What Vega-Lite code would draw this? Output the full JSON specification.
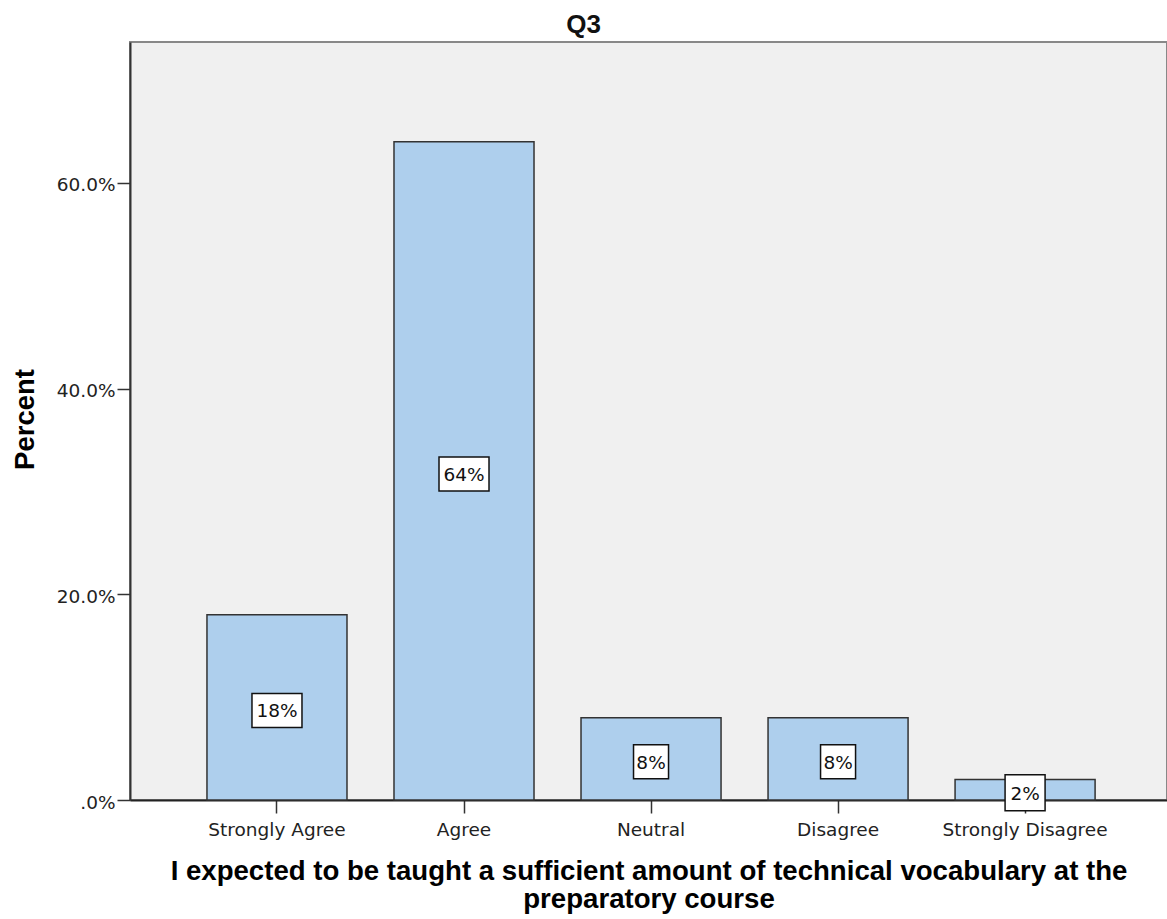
{
  "$schema": "https://vega.github.io/schema/vega-lite/v6.json",
  "autosize": {"type": "none"},
  "padding": {"left": 130, "top": 42, "right": 0, "bottom": 119},
  "width": 1037,
  "height": 758,
  "background": "white",
  "title": {
    "text": "Q3",
    "font": "Liberation Sans",
    "fontSize": 26,
    "fontWeight": "bold",
    "color": "#111",
    "anchor": "middle",
    "frame": "group",
    "baseline": "alphabetic",
    "offset": 14,
    "dx": -65,
    "dy": 31
  },
  "config": {
    "view": {"fill": "#F0F0F0", "stroke": "#888888", "strokeWidth": 2}
  },
  "data": {
    "values": [
      {"category": "Strongly Agree", "pct": 18, "label": "18%"},
      {"category": "Agree", "pct": 64, "label": "64%"},
      {"category": "Neutral", "pct": 8, "label": "8%"},
      {"category": "Disagree", "pct": 8, "label": "8%"},
      {"category": "Strongly Disagree", "pct": 2, "label": "2%"}
    ]
  },
  "transform": [{"calculate": "datum.pct / 2", "as": "mid"}],
  "encoding": {
    "x": {
      "field": "category",
      "type": "nominal",
      "sort": null,
      "scale": {"paddingInner": 0.2513, "paddingOuter": 0.398, "align": 0.517},
      "axis": {
        "title": ["I expected to be taught a sufficient amount of technical vocabulary at the", "preparatory course"],
        "titleFont": "Liberation Sans",
        "titleFontSize": 27.6,
        "titleFontWeight": "bold",
        "titleColor": "#000",
        "titleBaseline": "alphabetic",
        "titleY": 79,
        "titleLineHeight": 28,
        "labelAngle": 0,
        "labelFont": "DejaVu Sans",
        "labelFontSize": 18.5,
        "labelColor": "#222",
        "labelPadding": 7,
        "labelBaseline": "top",
        "tickSize": 13,
        "tickColor": "#333",
        "tickWidth": 1.5,
        "domainColor": "#222",
        "domainWidth": 2,
        "grid": false
      }
    }
  },
  "layer": [
    {
      "mark": {"type": "bar", "fill": "#AECFED", "stroke": "#333333", "strokeWidth": 1.5},
      "encoding": {
        "y": {
          "field": "pct",
          "type": "quantitative",
          "scale": {"domain": [0, 73.7], "nice": false, "zero": true},
          "axis": {
            "title": "Percent",
            "titleFont": "Liberation Sans",
            "titleFontSize": 27.5,
            "titleFontWeight": "bold",
            "titleColor": "#000",
            "titleAngle": -90,
            "titleBaseline": "alphabetic",
            "titleAlign": "center",
            "titleX": -97,
            "titleY": 377,
            "values": [0, 20, 40, 60],
            "labelExpr": "datum.value == 0 ? '.0%' : format(datum.value, '.1f') + '%'",
            "labelFont": "DejaVu Sans",
            "labelFontSize": 18.5,
            "labelColor": "#222",
            "labelPadding": 2,
            "labelOffset": 2,
            "tickSize": 13,
            "tickColor": "#333",
            "tickWidth": 1.5,
            "domainColor": "#333",
            "domainWidth": 2,
            "grid": false
          }
        }
      }
    },
    {
      "mark": {"type": "point", "filled": true, "fill": "white", "stroke": "#111", "strokeWidth": 1.5, "opacity": 1, "size": 4, "yOffset": 3},
      "encoding": {
        "y": {"field": "mid", "type": "quantitative"},
        "shape": {
          "field": "label",
          "type": "nominal",
          "legend": null,
          "scale": {
            "domain": ["18%", "64%", "8%", "2%"],
            "range": [
              "M-25,-17L25,-17L25,17L-25,17Z",
              "M-25,-17L25,-17L25,17L-25,17Z",
              "M-17.5,-17L17.5,-17L17.5,17L-17.5,17Z",
              "M-20,-18L20,-18L20,18L-20,18Z"
            ]
          }
        }
      }
    },
    {
      "mark": {"type": "text", "font": "DejaVu Sans", "fontSize": 18.5, "color": "#111", "baseline": "middle", "align": "center", "yOffset": 4},
      "encoding": {
        "y": {"field": "mid", "type": "quantitative"},
        "text": {"field": "label"}
      }
    }
  ]
}
